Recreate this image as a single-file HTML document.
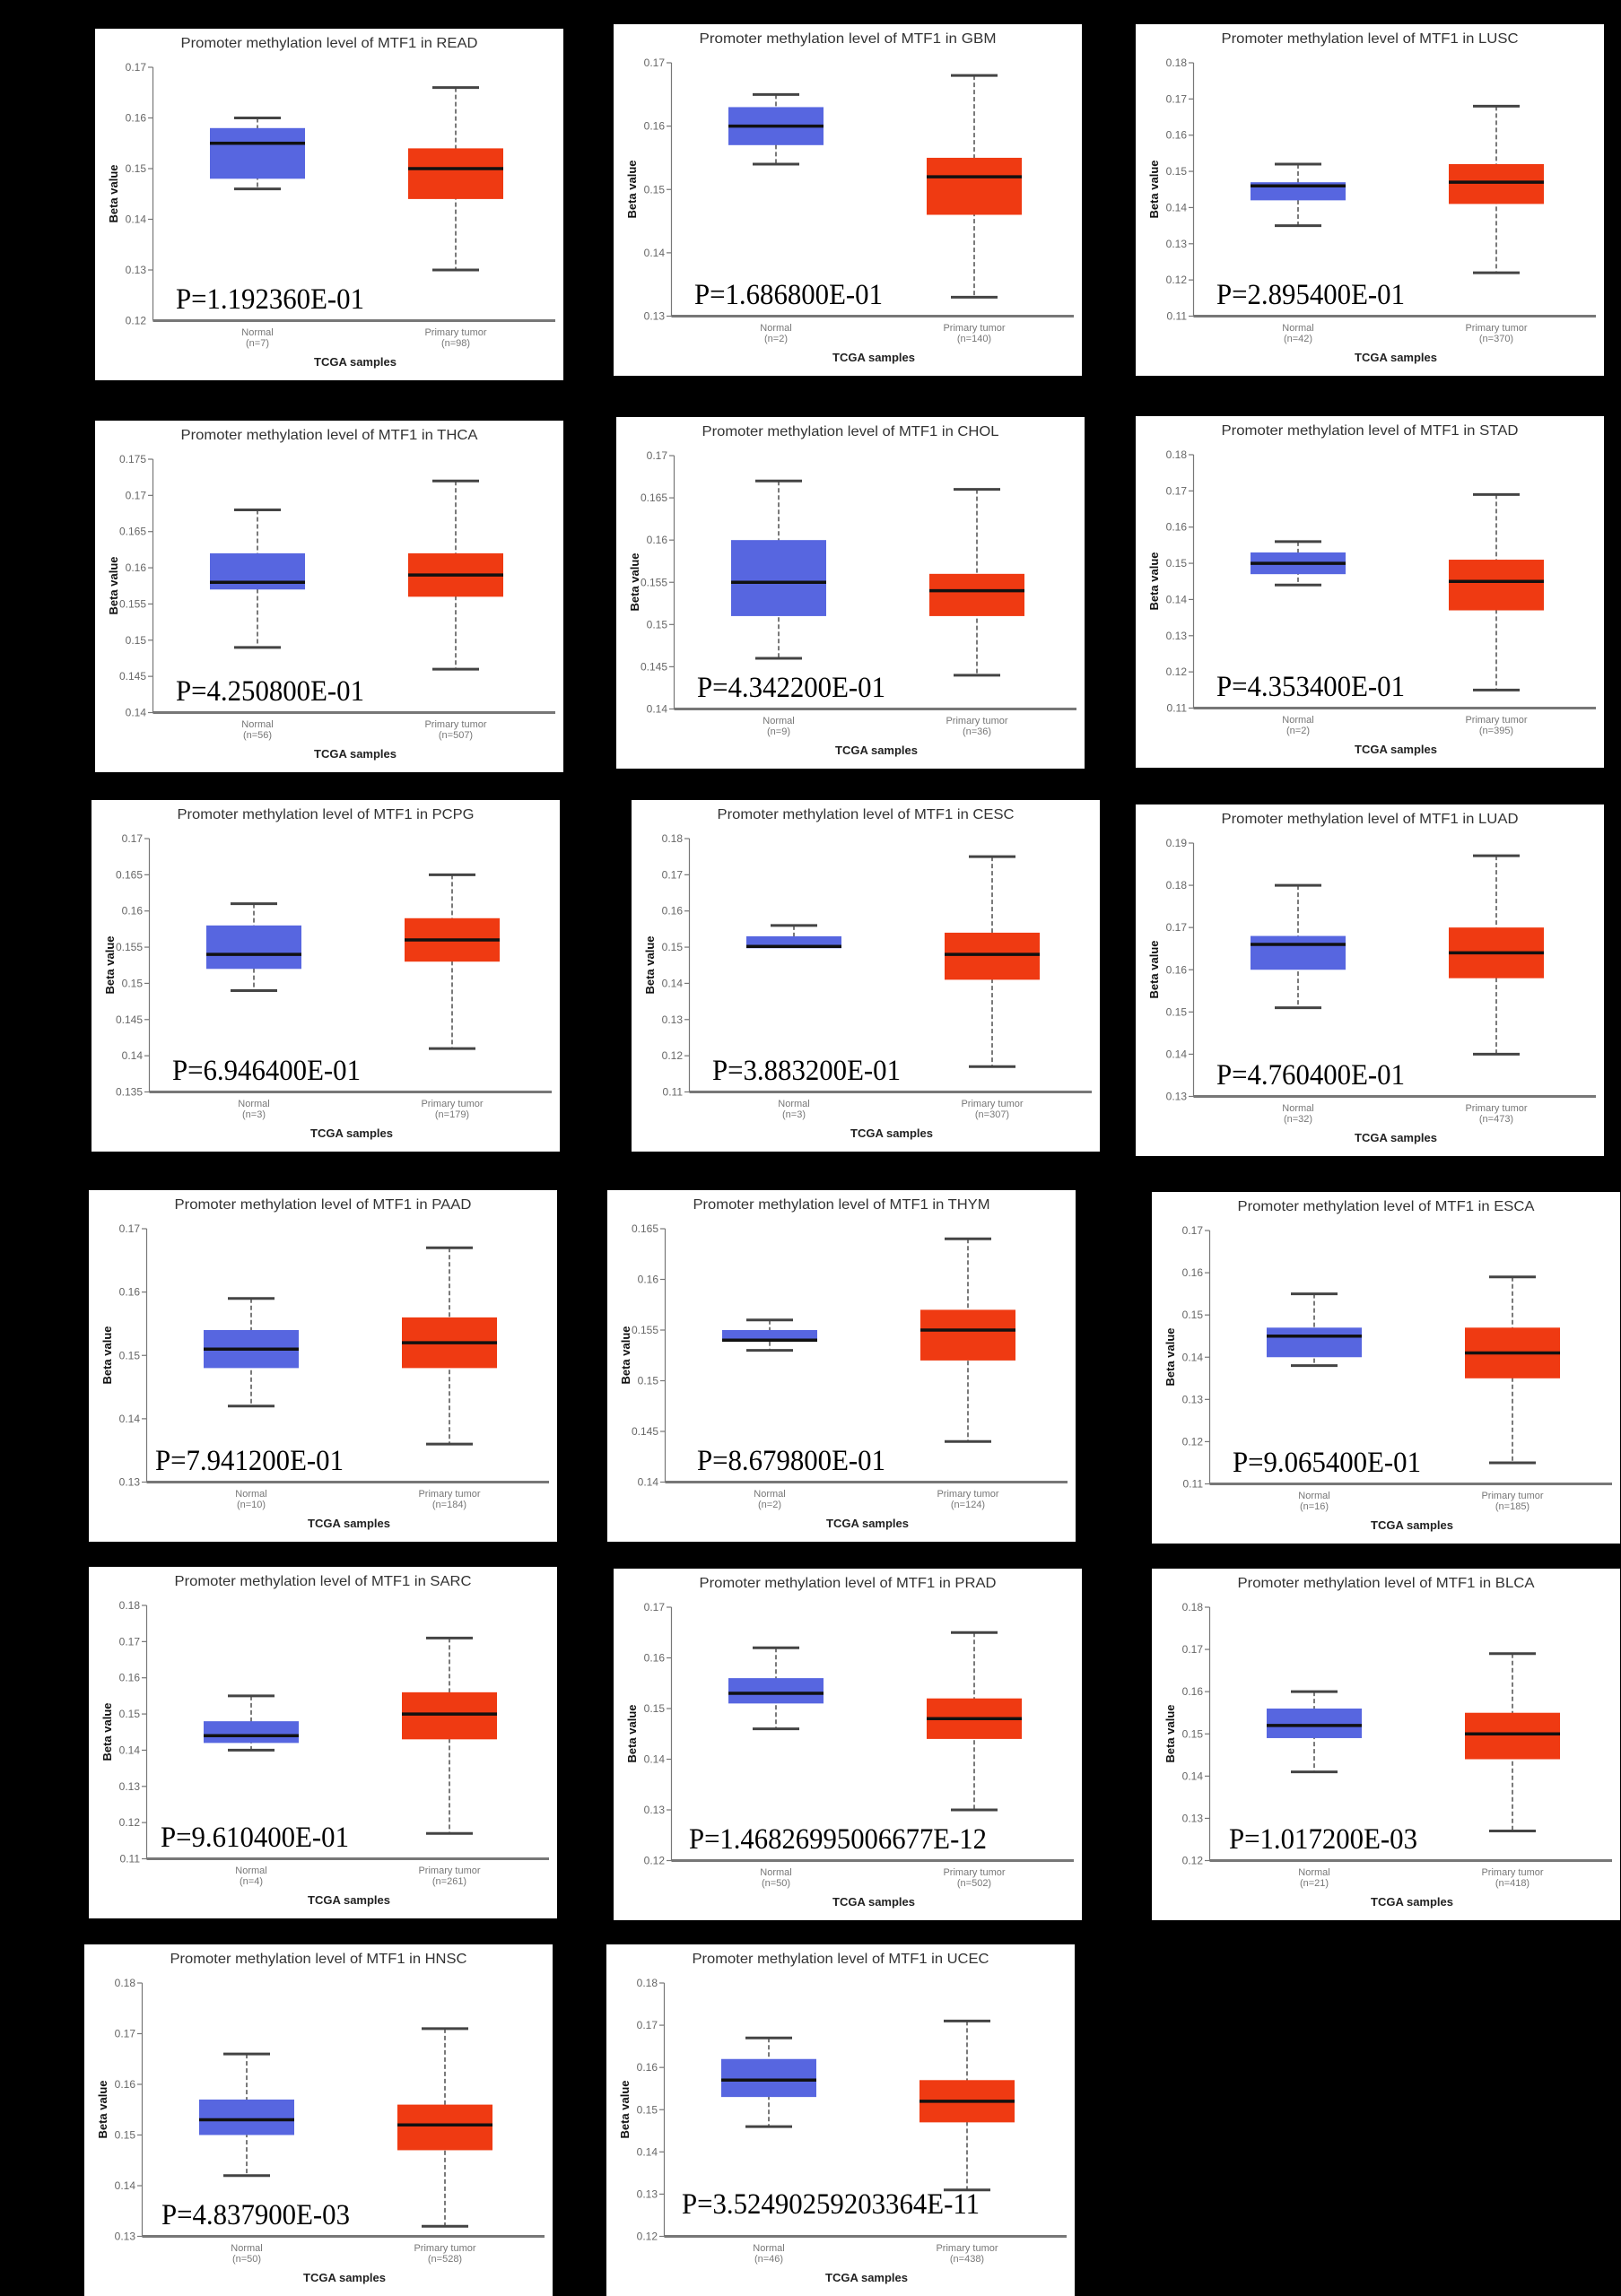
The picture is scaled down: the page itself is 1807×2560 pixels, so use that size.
<!DOCTYPE html>
<html><head><meta charset="utf-8"><style>
html,body{margin:0;padding:0;background:#000}
svg{display:block}
.ps line,.ps rect{vector-effect:non-scaling-stroke}
.ax{stroke:#777;stroke-width:1.2}
.xa{stroke:#777;stroke-width:3}
.w{stroke:#222;stroke-width:1.2;stroke-dasharray:5 3}
.cap{stroke:#444;stroke-width:3}
.m{stroke:#111;stroke-width:3.5}
.nb{fill:#5766e0}
.tb{fill:#ef3a12}
.t{font:16px "Liberation Sans",sans-serif;fill:#333;text-anchor:middle}
.k{font:12px "Liberation Sans",sans-serif;fill:#666;text-anchor:end}
.b{font:bold 13px "Liberation Sans",sans-serif;fill:#111;text-anchor:middle}
.c{font:11px "Liberation Sans",sans-serif;fill:#777;text-anchor:middle}
.x{font:bold 13px "Liberation Sans",sans-serif;fill:#222;text-anchor:middle}
.p{font:33px "Liberation Serif",serif;fill:#000}
</style></head><body>
<svg width="1807" height="2560" viewBox="0 0 1807 2560" xmlns="http://www.w3.org/2000/svg">
<rect width="1807" height="2560" fill="#000"/>

<!-- P1 READ -->
<g transform="translate(106,32)">
<rect width="522" height="392" fill="#fff"/>
<svg class="ps" x="0" y="43" width="522" height="282.5" viewBox="0 -170 522 50" preserveAspectRatio="none" overflow="visible">
<line class="ax" x1="64.5" x2="64.5" y1="-170" y2="-120"/><line class="xa" x1="64.5" x2="513" y1="-120" y2="-120"/>
<line class="ax" x1="59" x2="64.5" y1="-170" y2="-170"/><line class="ax" x1="59" x2="64.5" y1="-160" y2="-160"/><line class="ax" x1="59" x2="64.5" y1="-150" y2="-150"/><line class="ax" x1="59" x2="64.5" y1="-140" y2="-140"/><line class="ax" x1="59" x2="64.5" y1="-130" y2="-130"/>
<line class="w" x1="181" x2="181" y1="-160" y2="-146"/><rect class="nb" x="128" y="-158" width="106" height="10"/><line class="m" x1="128" x2="234" y1="-155" y2="-155"/><line class="cap" x1="155" x2="207" y1="-160" y2="-160"/><line class="cap" x1="155" x2="207" y1="-146" y2="-146"/>
<line class="w" x1="402" x2="402" y1="-166" y2="-130"/><rect class="tb" x="349" y="-154" width="106" height="10"/><line class="m" x1="349" x2="455" y1="-150" y2="-150"/><line class="cap" x1="376" x2="428" y1="-166" y2="-166"/><line class="cap" x1="376" x2="428" y1="-130" y2="-130"/>
</svg>
<text class="t" x="261" y="21" textLength="331" lengthAdjust="spacingAndGlyphs">Promoter methylation level of MTF1 in READ</text>
<text class="k" x="57" y="47">0.17</text><text class="k" x="57" y="103.5">0.16</text><text class="k" x="57" y="160">0.15</text><text class="k" x="57" y="216.5">0.14</text><text class="k" x="57" y="273">0.13</text><text class="k" x="57" y="329.5">0.12</text>
<text class="b" transform="translate(25,184) rotate(-90)">Beta value</text>
<text class="c" x="181" y="342">Normal</text><text class="c" x="181" y="354">(n=7)</text>
<text class="c" x="402" y="342">Primary tumor</text><text class="c" x="402" y="354">(n=98)</text>
<text class="x" x="290" y="376">TCGA samples</text>
<text class="p" x="90" y="312" textLength="210" lengthAdjust="spacingAndGlyphs">P=1.192360E-01</text>
</g>

<!-- P2 GBM -->
<g transform="translate(684,27)">
<rect width="522" height="392" fill="#fff"/>
<svg class="ps" x="0" y="43" width="522" height="282.5" viewBox="0 -170 522 40" preserveAspectRatio="none" overflow="visible">
<line class="ax" x1="64.5" x2="64.5" y1="-170" y2="-130"/><line class="xa" x1="64.5" x2="513" y1="-130" y2="-130"/>
<line class="ax" x1="59" x2="64.5" y1="-170" y2="-170"/><line class="ax" x1="59" x2="64.5" y1="-160" y2="-160"/><line class="ax" x1="59" x2="64.5" y1="-150" y2="-150"/><line class="ax" x1="59" x2="64.5" y1="-140" y2="-140"/><line class="ax" x1="59" x2="64.5" y1="-130" y2="-130"/>
<line class="w" x1="181" x2="181" y1="-165" y2="-154"/><rect class="nb" x="128" y="-163" width="106" height="6"/><line class="m" x1="128" x2="234" y1="-160" y2="-160"/><line class="cap" x1="155" x2="207" y1="-165" y2="-165"/><line class="cap" x1="155" x2="207" y1="-154" y2="-154"/>
<line class="w" x1="402" x2="402" y1="-168" y2="-133"/><rect class="tb" x="349" y="-155" width="106" height="9"/><line class="m" x1="349" x2="455" y1="-152" y2="-152"/><line class="cap" x1="376" x2="428" y1="-168" y2="-168"/><line class="cap" x1="376" x2="428" y1="-133" y2="-133"/>
</svg>
<text class="t" x="261" y="21" textLength="331" lengthAdjust="spacingAndGlyphs">Promoter methylation level of MTF1 in GBM</text>
<text class="k" x="57" y="47">0.17</text><text class="k" x="57" y="117.6">0.16</text><text class="k" x="57" y="188.3">0.15</text><text class="k" x="57" y="258.9">0.14</text><text class="k" x="57" y="329.5">0.13</text>
<text class="b" transform="translate(25,184) rotate(-90)">Beta value</text>
<text class="c" x="181" y="342">Normal</text><text class="c" x="181" y="354">(n=2)</text>
<text class="c" x="402" y="342">Primary tumor</text><text class="c" x="402" y="354">(n=140)</text>
<text class="x" x="290" y="376">TCGA samples</text>
<text class="p" x="90" y="312" textLength="210" lengthAdjust="spacingAndGlyphs">P=1.686800E-01</text>
</g>

<!-- P3 LUSC -->
<g transform="translate(1266,27)">
<rect width="522" height="392" fill="#fff"/>
<svg class="ps" x="0" y="43" width="522" height="282.5" viewBox="0 -180 522 70" preserveAspectRatio="none" overflow="visible">
<line class="ax" x1="64.5" x2="64.5" y1="-180" y2="-110"/><line class="xa" x1="64.5" x2="513" y1="-110" y2="-110"/>
<line class="ax" x1="59" x2="64.5" y1="-180" y2="-180"/><line class="ax" x1="59" x2="64.5" y1="-170" y2="-170"/><line class="ax" x1="59" x2="64.5" y1="-160" y2="-160"/><line class="ax" x1="59" x2="64.5" y1="-150" y2="-150"/><line class="ax" x1="59" x2="64.5" y1="-140" y2="-140"/><line class="ax" x1="59" x2="64.5" y1="-130" y2="-130"/><line class="ax" x1="59" x2="64.5" y1="-120" y2="-120"/><line class="ax" x1="59" x2="64.5" y1="-110" y2="-110"/>
<line class="w" x1="181" x2="181" y1="-152" y2="-135"/><rect class="nb" x="128" y="-147" width="106" height="5"/><line class="m" x1="128" x2="234" y1="-146" y2="-146"/><line class="cap" x1="155" x2="207" y1="-152" y2="-152"/><line class="cap" x1="155" x2="207" y1="-135" y2="-135"/>
<line class="w" x1="402" x2="402" y1="-168" y2="-122"/><rect class="tb" x="349" y="-152" width="106" height="11"/><line class="m" x1="349" x2="455" y1="-147" y2="-147"/><line class="cap" x1="376" x2="428" y1="-168" y2="-168"/><line class="cap" x1="376" x2="428" y1="-122" y2="-122"/>
</svg>
<text class="t" x="261" y="21" textLength="331" lengthAdjust="spacingAndGlyphs">Promoter methylation level of MTF1 in LUSC</text>
<text class="k" x="57" y="47">0.18</text><text class="k" x="57" y="87.4">0.17</text><text class="k" x="57" y="127.7">0.16</text><text class="k" x="57" y="168.1">0.15</text><text class="k" x="57" y="208.4">0.14</text><text class="k" x="57" y="248.8">0.13</text><text class="k" x="57" y="289.1">0.12</text><text class="k" x="57" y="329.5">0.11</text>
<text class="b" transform="translate(25,184) rotate(-90)">Beta value</text>
<text class="c" x="181" y="342">Normal</text><text class="c" x="181" y="354">(n=42)</text>
<text class="c" x="402" y="342">Primary tumor</text><text class="c" x="402" y="354">(n=370)</text>
<text class="x" x="290" y="376">TCGA samples</text>
<text class="p" x="90" y="312" textLength="210" lengthAdjust="spacingAndGlyphs">P=2.895400E-01</text>
</g>

<!-- P4 THCA -->
<g transform="translate(106,469)">
<rect width="522" height="392" fill="#fff"/>
<svg class="ps" x="0" y="43" width="522" height="282.5" viewBox="0 -175 522 35" preserveAspectRatio="none" overflow="visible">
<line class="ax" x1="64.5" x2="64.5" y1="-175" y2="-140"/><line class="xa" x1="64.5" x2="513" y1="-140" y2="-140"/>
<line class="ax" x1="59" x2="64.5" y1="-175" y2="-175"/><line class="ax" x1="59" x2="64.5" y1="-170" y2="-170"/><line class="ax" x1="59" x2="64.5" y1="-165" y2="-165"/><line class="ax" x1="59" x2="64.5" y1="-160" y2="-160"/><line class="ax" x1="59" x2="64.5" y1="-155" y2="-155"/><line class="ax" x1="59" x2="64.5" y1="-150" y2="-150"/><line class="ax" x1="59" x2="64.5" y1="-145" y2="-145"/><line class="ax" x1="59" x2="64.5" y1="-140" y2="-140"/>
<line class="w" x1="181" x2="181" y1="-168" y2="-149"/><rect class="nb" x="128" y="-162" width="106" height="5"/><line class="m" x1="128" x2="234" y1="-158" y2="-158"/><line class="cap" x1="155" x2="207" y1="-168" y2="-168"/><line class="cap" x1="155" x2="207" y1="-149" y2="-149"/>
<line class="w" x1="402" x2="402" y1="-172" y2="-146"/><rect class="tb" x="349" y="-162" width="106" height="6"/><line class="m" x1="349" x2="455" y1="-159" y2="-159"/><line class="cap" x1="376" x2="428" y1="-172" y2="-172"/><line class="cap" x1="376" x2="428" y1="-146" y2="-146"/>
</svg>
<text class="t" x="261" y="21" textLength="331" lengthAdjust="spacingAndGlyphs">Promoter methylation level of MTF1 in THCA</text>
<text class="k" x="57" y="47">0.175</text><text class="k" x="57" y="87.4">0.17</text><text class="k" x="57" y="127.7">0.165</text><text class="k" x="57" y="168.1">0.16</text><text class="k" x="57" y="208.4">0.155</text><text class="k" x="57" y="248.8">0.15</text><text class="k" x="57" y="289.1">0.145</text><text class="k" x="57" y="329.5">0.14</text>
<text class="b" transform="translate(25,184) rotate(-90)">Beta value</text>
<text class="c" x="181" y="342">Normal</text><text class="c" x="181" y="354">(n=56)</text>
<text class="c" x="402" y="342">Primary tumor</text><text class="c" x="402" y="354">(n=507)</text>
<text class="x" x="290" y="376">TCGA samples</text>
<text class="p" x="90" y="312" textLength="210" lengthAdjust="spacingAndGlyphs">P=4.250800E-01</text>
</g>

<!-- P5 CHOL -->
<g transform="translate(687,465)">
<rect width="522" height="392" fill="#fff"/>
<svg class="ps" x="0" y="43" width="522" height="282.5" viewBox="0 -170 522 30" preserveAspectRatio="none" overflow="visible">
<line class="ax" x1="64.5" x2="64.5" y1="-170" y2="-140"/><line class="xa" x1="64.5" x2="513" y1="-140" y2="-140"/>
<line class="ax" x1="59" x2="64.5" y1="-170" y2="-170"/><line class="ax" x1="59" x2="64.5" y1="-165" y2="-165"/><line class="ax" x1="59" x2="64.5" y1="-160" y2="-160"/><line class="ax" x1="59" x2="64.5" y1="-155" y2="-155"/><line class="ax" x1="59" x2="64.5" y1="-150" y2="-150"/><line class="ax" x1="59" x2="64.5" y1="-145" y2="-145"/><line class="ax" x1="59" x2="64.5" y1="-140" y2="-140"/>
<line class="w" x1="181" x2="181" y1="-167" y2="-146"/><rect class="nb" x="128" y="-160" width="106" height="9"/><line class="m" x1="128" x2="234" y1="-155" y2="-155"/><line class="cap" x1="155" x2="207" y1="-167" y2="-167"/><line class="cap" x1="155" x2="207" y1="-146" y2="-146"/>
<line class="w" x1="402" x2="402" y1="-166" y2="-144"/><rect class="tb" x="349" y="-156" width="106" height="5"/><line class="m" x1="349" x2="455" y1="-154" y2="-154"/><line class="cap" x1="376" x2="428" y1="-166" y2="-166"/><line class="cap" x1="376" x2="428" y1="-144" y2="-144"/>
</svg>
<text class="t" x="261" y="21" textLength="331" lengthAdjust="spacingAndGlyphs">Promoter methylation level of MTF1 in CHOL</text>
<text class="k" x="57" y="47">0.17</text><text class="k" x="57" y="94.1">0.165</text><text class="k" x="57" y="141.2">0.16</text><text class="k" x="57" y="188.3">0.155</text><text class="k" x="57" y="235.3">0.15</text><text class="k" x="57" y="282.4">0.145</text><text class="k" x="57" y="329.5">0.14</text>
<text class="b" transform="translate(25,184) rotate(-90)">Beta value</text>
<text class="c" x="181" y="342">Normal</text><text class="c" x="181" y="354">(n=9)</text>
<text class="c" x="402" y="342">Primary tumor</text><text class="c" x="402" y="354">(n=36)</text>
<text class="x" x="290" y="376">TCGA samples</text>
<text class="p" x="90" y="312" textLength="210" lengthAdjust="spacingAndGlyphs">P=4.342200E-01</text>
</g>

<!-- P6 STAD -->
<g transform="translate(1266,464)">
<rect width="522" height="392" fill="#fff"/>
<svg class="ps" x="0" y="43" width="522" height="282.5" viewBox="0 -180 522 70" preserveAspectRatio="none" overflow="visible">
<line class="ax" x1="64.5" x2="64.5" y1="-180" y2="-110"/><line class="xa" x1="64.5" x2="513" y1="-110" y2="-110"/>
<line class="ax" x1="59" x2="64.5" y1="-180" y2="-180"/><line class="ax" x1="59" x2="64.5" y1="-170" y2="-170"/><line class="ax" x1="59" x2="64.5" y1="-160" y2="-160"/><line class="ax" x1="59" x2="64.5" y1="-150" y2="-150"/><line class="ax" x1="59" x2="64.5" y1="-140" y2="-140"/><line class="ax" x1="59" x2="64.5" y1="-130" y2="-130"/><line class="ax" x1="59" x2="64.5" y1="-120" y2="-120"/><line class="ax" x1="59" x2="64.5" y1="-110" y2="-110"/>
<line class="w" x1="181" x2="181" y1="-156" y2="-144"/><rect class="nb" x="128" y="-153" width="106" height="6"/><line class="m" x1="128" x2="234" y1="-150" y2="-150"/><line class="cap" x1="155" x2="207" y1="-156" y2="-156"/><line class="cap" x1="155" x2="207" y1="-144" y2="-144"/>
<line class="w" x1="402" x2="402" y1="-169" y2="-115"/><rect class="tb" x="349" y="-151" width="106" height="14"/><line class="m" x1="349" x2="455" y1="-145" y2="-145"/><line class="cap" x1="376" x2="428" y1="-169" y2="-169"/><line class="cap" x1="376" x2="428" y1="-115" y2="-115"/>
</svg>
<text class="t" x="261" y="21" textLength="331" lengthAdjust="spacingAndGlyphs">Promoter methylation level of MTF1 in STAD</text>
<text class="k" x="57" y="47">0.18</text><text class="k" x="57" y="87.4">0.17</text><text class="k" x="57" y="127.7">0.16</text><text class="k" x="57" y="168.1">0.15</text><text class="k" x="57" y="208.4">0.14</text><text class="k" x="57" y="248.8">0.13</text><text class="k" x="57" y="289.1">0.12</text><text class="k" x="57" y="329.5">0.11</text>
<text class="b" transform="translate(25,184) rotate(-90)">Beta value</text>
<text class="c" x="181" y="342">Normal</text><text class="c" x="181" y="354">(n=2)</text>
<text class="c" x="402" y="342">Primary tumor</text><text class="c" x="402" y="354">(n=395)</text>
<text class="x" x="290" y="376">TCGA samples</text>
<text class="p" x="90" y="312" textLength="210" lengthAdjust="spacingAndGlyphs">P=4.353400E-01</text>
</g>

<!-- P7 PCPG -->
<g transform="translate(102,892)">
<rect width="522" height="392" fill="#fff"/>
<svg class="ps" x="0" y="43" width="522" height="282.5" viewBox="0 -170 522 35" preserveAspectRatio="none" overflow="visible">
<line class="ax" x1="64.5" x2="64.5" y1="-170" y2="-135"/><line class="xa" x1="64.5" x2="513" y1="-135" y2="-135"/>
<line class="ax" x1="59" x2="64.5" y1="-170" y2="-170"/><line class="ax" x1="59" x2="64.5" y1="-165" y2="-165"/><line class="ax" x1="59" x2="64.5" y1="-160" y2="-160"/><line class="ax" x1="59" x2="64.5" y1="-155" y2="-155"/><line class="ax" x1="59" x2="64.5" y1="-150" y2="-150"/><line class="ax" x1="59" x2="64.5" y1="-145" y2="-145"/><line class="ax" x1="59" x2="64.5" y1="-140" y2="-140"/><line class="ax" x1="59" x2="64.5" y1="-135" y2="-135"/>
<line class="w" x1="181" x2="181" y1="-161" y2="-149"/><rect class="nb" x="128" y="-158" width="106" height="6"/><line class="m" x1="128" x2="234" y1="-154" y2="-154"/><line class="cap" x1="155" x2="207" y1="-161" y2="-161"/><line class="cap" x1="155" x2="207" y1="-149" y2="-149"/>
<line class="w" x1="402" x2="402" y1="-165" y2="-141"/><rect class="tb" x="349" y="-159" width="106" height="6"/><line class="m" x1="349" x2="455" y1="-156" y2="-156"/><line class="cap" x1="376" x2="428" y1="-165" y2="-165"/><line class="cap" x1="376" x2="428" y1="-141" y2="-141"/>
</svg>
<text class="t" x="261" y="21" textLength="331" lengthAdjust="spacingAndGlyphs">Promoter methylation level of MTF1 in PCPG</text>
<text class="k" x="57" y="47">0.17</text><text class="k" x="57" y="87.4">0.165</text><text class="k" x="57" y="127.7">0.16</text><text class="k" x="57" y="168.1">0.155</text><text class="k" x="57" y="208.4">0.15</text><text class="k" x="57" y="248.8">0.145</text><text class="k" x="57" y="289.1">0.14</text><text class="k" x="57" y="329.5">0.135</text>
<text class="b" transform="translate(25,184) rotate(-90)">Beta value</text>
<text class="c" x="181" y="342">Normal</text><text class="c" x="181" y="354">(n=3)</text>
<text class="c" x="402" y="342">Primary tumor</text><text class="c" x="402" y="354">(n=179)</text>
<text class="x" x="290" y="376">TCGA samples</text>
<text class="p" x="90" y="312" textLength="210" lengthAdjust="spacingAndGlyphs">P=6.946400E-01</text>
</g>

<!-- P8 CESC -->
<g transform="translate(704,892)">
<rect width="522" height="392" fill="#fff"/>
<svg class="ps" x="0" y="43" width="522" height="282.5" viewBox="0 -180 522 70" preserveAspectRatio="none" overflow="visible">
<line class="ax" x1="64.5" x2="64.5" y1="-180" y2="-110"/><line class="xa" x1="64.5" x2="513" y1="-110" y2="-110"/>
<line class="ax" x1="59" x2="64.5" y1="-180" y2="-180"/><line class="ax" x1="59" x2="64.5" y1="-170" y2="-170"/><line class="ax" x1="59" x2="64.5" y1="-160" y2="-160"/><line class="ax" x1="59" x2="64.5" y1="-150" y2="-150"/><line class="ax" x1="59" x2="64.5" y1="-140" y2="-140"/><line class="ax" x1="59" x2="64.5" y1="-130" y2="-130"/><line class="ax" x1="59" x2="64.5" y1="-120" y2="-120"/><line class="ax" x1="59" x2="64.5" y1="-110" y2="-110"/>
<line class="w" x1="181" x2="181" y1="-156" y2="-150"/><rect class="nb" x="128" y="-153" width="106" height="3.3"/><line class="m" x1="128" x2="234" y1="-150.2" y2="-150.2"/><line class="cap" x1="155" x2="207" y1="-156" y2="-156"/>
<line class="w" x1="402" x2="402" y1="-175" y2="-117"/><rect class="tb" x="349" y="-154" width="106" height="13"/><line class="m" x1="349" x2="455" y1="-148" y2="-148"/><line class="cap" x1="376" x2="428" y1="-175" y2="-175"/><line class="cap" x1="376" x2="428" y1="-117" y2="-117"/>
</svg>
<text class="t" x="261" y="21" textLength="331" lengthAdjust="spacingAndGlyphs">Promoter methylation level of MTF1 in CESC</text>
<text class="k" x="57" y="47">0.18</text><text class="k" x="57" y="87.4">0.17</text><text class="k" x="57" y="127.7">0.16</text><text class="k" x="57" y="168.1">0.15</text><text class="k" x="57" y="208.4">0.14</text><text class="k" x="57" y="248.8">0.13</text><text class="k" x="57" y="289.1">0.12</text><text class="k" x="57" y="329.5">0.11</text>
<text class="b" transform="translate(25,184) rotate(-90)">Beta value</text>
<text class="c" x="181" y="342">Normal</text><text class="c" x="181" y="354">(n=3)</text>
<text class="c" x="402" y="342">Primary tumor</text><text class="c" x="402" y="354">(n=307)</text>
<text class="x" x="290" y="376">TCGA samples</text>
<text class="p" x="90" y="312" textLength="210" lengthAdjust="spacingAndGlyphs">P=3.883200E-01</text>
</g>

<!-- P9 LUAD -->
<g transform="translate(1266,897)">
<rect width="522" height="392" fill="#fff"/>
<svg class="ps" x="0" y="43" width="522" height="282.5" viewBox="0 -190 522 60" preserveAspectRatio="none" overflow="visible">
<line class="ax" x1="64.5" x2="64.5" y1="-190" y2="-130"/><line class="xa" x1="64.5" x2="513" y1="-130" y2="-130"/>
<line class="ax" x1="59" x2="64.5" y1="-190" y2="-190"/><line class="ax" x1="59" x2="64.5" y1="-180" y2="-180"/><line class="ax" x1="59" x2="64.5" y1="-170" y2="-170"/><line class="ax" x1="59" x2="64.5" y1="-160" y2="-160"/><line class="ax" x1="59" x2="64.5" y1="-150" y2="-150"/><line class="ax" x1="59" x2="64.5" y1="-140" y2="-140"/><line class="ax" x1="59" x2="64.5" y1="-130" y2="-130"/>
<line class="w" x1="181" x2="181" y1="-180" y2="-151"/><rect class="nb" x="128" y="-168" width="106" height="8"/><line class="m" x1="128" x2="234" y1="-166" y2="-166"/><line class="cap" x1="155" x2="207" y1="-180" y2="-180"/><line class="cap" x1="155" x2="207" y1="-151" y2="-151"/>
<line class="w" x1="402" x2="402" y1="-187" y2="-140"/><rect class="tb" x="349" y="-170" width="106" height="12"/><line class="m" x1="349" x2="455" y1="-164" y2="-164"/><line class="cap" x1="376" x2="428" y1="-187" y2="-187"/><line class="cap" x1="376" x2="428" y1="-140" y2="-140"/>
</svg>
<text class="t" x="261" y="21" textLength="331" lengthAdjust="spacingAndGlyphs">Promoter methylation level of MTF1 in LUAD</text>
<text class="k" x="57" y="47">0.19</text><text class="k" x="57" y="94.1">0.18</text><text class="k" x="57" y="141.2">0.17</text><text class="k" x="57" y="188.3">0.16</text><text class="k" x="57" y="235.3">0.15</text><text class="k" x="57" y="282.4">0.14</text><text class="k" x="57" y="329.5">0.13</text>
<text class="b" transform="translate(25,184) rotate(-90)">Beta value</text>
<text class="c" x="181" y="342">Normal</text><text class="c" x="181" y="354">(n=32)</text>
<text class="c" x="402" y="342">Primary tumor</text><text class="c" x="402" y="354">(n=473)</text>
<text class="x" x="290" y="376">TCGA samples</text>
<text class="p" x="90" y="312" textLength="210" lengthAdjust="spacingAndGlyphs">P=4.760400E-01</text>
</g>

<!-- P10 PAAD -->
<g transform="translate(99,1327)">
<rect width="522" height="392" fill="#fff"/>
<svg class="ps" x="0" y="43" width="522" height="282.5" viewBox="0 -170 522 40" preserveAspectRatio="none" overflow="visible">
<line class="ax" x1="64.5" x2="64.5" y1="-170" y2="-130"/><line class="xa" x1="64.5" x2="513" y1="-130" y2="-130"/>
<line class="ax" x1="59" x2="64.5" y1="-170" y2="-170"/><line class="ax" x1="59" x2="64.5" y1="-160" y2="-160"/><line class="ax" x1="59" x2="64.5" y1="-150" y2="-150"/><line class="ax" x1="59" x2="64.5" y1="-140" y2="-140"/><line class="ax" x1="59" x2="64.5" y1="-130" y2="-130"/>
<line class="w" x1="181" x2="181" y1="-159" y2="-142"/><rect class="nb" x="128" y="-154" width="106" height="6"/><line class="m" x1="128" x2="234" y1="-151" y2="-151"/><line class="cap" x1="155" x2="207" y1="-159" y2="-159"/><line class="cap" x1="155" x2="207" y1="-142" y2="-142"/>
<line class="w" x1="402" x2="402" y1="-167" y2="-136"/><rect class="tb" x="349" y="-156" width="106" height="8"/><line class="m" x1="349" x2="455" y1="-152" y2="-152"/><line class="cap" x1="376" x2="428" y1="-167" y2="-167"/><line class="cap" x1="376" x2="428" y1="-136" y2="-136"/>
</svg>
<text class="t" x="261" y="21" textLength="331" lengthAdjust="spacingAndGlyphs">Promoter methylation level of MTF1 in PAAD</text>
<text class="k" x="57" y="47">0.17</text><text class="k" x="57" y="117.6">0.16</text><text class="k" x="57" y="188.3">0.15</text><text class="k" x="57" y="258.9">0.14</text><text class="k" x="57" y="329.5">0.13</text>
<text class="b" transform="translate(25,184) rotate(-90)">Beta value</text>
<text class="c" x="181" y="342">Normal</text><text class="c" x="181" y="354">(n=10)</text>
<text class="c" x="402" y="342">Primary tumor</text><text class="c" x="402" y="354">(n=184)</text>
<text class="x" x="290" y="376">TCGA samples</text>
<text class="p" x="74" y="312" textLength="210" lengthAdjust="spacingAndGlyphs">P=7.941200E-01</text>
</g>

<!-- P11 THYM -->
<g transform="translate(677,1327)">
<rect width="522" height="392" fill="#fff"/>
<svg class="ps" x="0" y="43" width="522" height="282.5" viewBox="0 -165 522 25" preserveAspectRatio="none" overflow="visible">
<line class="ax" x1="64.5" x2="64.5" y1="-165" y2="-140"/><line class="xa" x1="64.5" x2="513" y1="-140" y2="-140"/>
<line class="ax" x1="59" x2="64.5" y1="-165" y2="-165"/><line class="ax" x1="59" x2="64.5" y1="-160" y2="-160"/><line class="ax" x1="59" x2="64.5" y1="-155" y2="-155"/><line class="ax" x1="59" x2="64.5" y1="-150" y2="-150"/><line class="ax" x1="59" x2="64.5" y1="-145" y2="-145"/><line class="ax" x1="59" x2="64.5" y1="-140" y2="-140"/>
<line class="w" x1="181" x2="181" y1="-156" y2="-153"/><rect class="nb" x="128" y="-155" width="106" height="1.1"/><line class="m" x1="128" x2="234" y1="-154" y2="-154"/><line class="cap" x1="155" x2="207" y1="-156" y2="-156"/><line class="cap" x1="155" x2="207" y1="-153" y2="-153"/>
<line class="w" x1="402" x2="402" y1="-164" y2="-144"/><rect class="tb" x="349" y="-157" width="106" height="5"/><line class="m" x1="349" x2="455" y1="-155" y2="-155"/><line class="cap" x1="376" x2="428" y1="-164" y2="-164"/><line class="cap" x1="376" x2="428" y1="-144" y2="-144"/>
</svg>
<text class="t" x="261" y="21" textLength="331" lengthAdjust="spacingAndGlyphs">Promoter methylation level of MTF1 in THYM</text>
<text class="k" x="57" y="47">0.165</text><text class="k" x="57" y="103.5">0.16</text><text class="k" x="57" y="160">0.155</text><text class="k" x="57" y="216.5">0.15</text><text class="k" x="57" y="273">0.145</text><text class="k" x="57" y="329.5">0.14</text>
<text class="b" transform="translate(25,184) rotate(-90)">Beta value</text>
<text class="c" x="181" y="342">Normal</text><text class="c" x="181" y="354">(n=2)</text>
<text class="c" x="402" y="342">Primary tumor</text><text class="c" x="402" y="354">(n=124)</text>
<text class="x" x="290" y="376">TCGA samples</text>
<text class="p" x="100" y="312" textLength="210" lengthAdjust="spacingAndGlyphs">P=8.679800E-01</text>
</g>

<!-- P12 ESCA -->
<g transform="translate(1284,1329)">
<rect width="522" height="392" fill="#fff"/>
<svg class="ps" x="0" y="43" width="522" height="282.5" viewBox="0 -170 522 60" preserveAspectRatio="none" overflow="visible">
<line class="ax" x1="64.5" x2="64.5" y1="-170" y2="-110"/><line class="xa" x1="64.5" x2="513" y1="-110" y2="-110"/>
<line class="ax" x1="59" x2="64.5" y1="-170" y2="-170"/><line class="ax" x1="59" x2="64.5" y1="-160" y2="-160"/><line class="ax" x1="59" x2="64.5" y1="-150" y2="-150"/><line class="ax" x1="59" x2="64.5" y1="-140" y2="-140"/><line class="ax" x1="59" x2="64.5" y1="-130" y2="-130"/><line class="ax" x1="59" x2="64.5" y1="-120" y2="-120"/><line class="ax" x1="59" x2="64.5" y1="-110" y2="-110"/>
<line class="w" x1="181" x2="181" y1="-155" y2="-138"/><rect class="nb" x="128" y="-147" width="106" height="7"/><line class="m" x1="128" x2="234" y1="-145" y2="-145"/><line class="cap" x1="155" x2="207" y1="-155" y2="-155"/><line class="cap" x1="155" x2="207" y1="-138" y2="-138"/>
<line class="w" x1="402" x2="402" y1="-159" y2="-115"/><rect class="tb" x="349" y="-147" width="106" height="12"/><line class="m" x1="349" x2="455" y1="-141" y2="-141"/><line class="cap" x1="376" x2="428" y1="-159" y2="-159"/><line class="cap" x1="376" x2="428" y1="-115" y2="-115"/>
</svg>
<text class="t" x="261" y="21" textLength="331" lengthAdjust="spacingAndGlyphs">Promoter methylation level of MTF1 in ESCA</text>
<text class="k" x="57" y="47">0.17</text><text class="k" x="57" y="94.1">0.16</text><text class="k" x="57" y="141.2">0.15</text><text class="k" x="57" y="188.3">0.14</text><text class="k" x="57" y="235.3">0.13</text><text class="k" x="57" y="282.4">0.12</text><text class="k" x="57" y="329.5">0.11</text>
<text class="b" transform="translate(25,184) rotate(-90)">Beta value</text>
<text class="c" x="181" y="342">Normal</text><text class="c" x="181" y="354">(n=16)</text>
<text class="c" x="402" y="342">Primary tumor</text><text class="c" x="402" y="354">(n=185)</text>
<text class="x" x="290" y="376">TCGA samples</text>
<text class="p" x="90" y="312" textLength="210" lengthAdjust="spacingAndGlyphs">P=9.065400E-01</text>
</g>

<!-- P13 SARC -->
<g transform="translate(99,1747)">
<rect width="522" height="392" fill="#fff"/>
<svg class="ps" x="0" y="43" width="522" height="282.5" viewBox="0 -180 522 70" preserveAspectRatio="none" overflow="visible">
<line class="ax" x1="64.5" x2="64.5" y1="-180" y2="-110"/><line class="xa" x1="64.5" x2="513" y1="-110" y2="-110"/>
<line class="ax" x1="59" x2="64.5" y1="-180" y2="-180"/><line class="ax" x1="59" x2="64.5" y1="-170" y2="-170"/><line class="ax" x1="59" x2="64.5" y1="-160" y2="-160"/><line class="ax" x1="59" x2="64.5" y1="-150" y2="-150"/><line class="ax" x1="59" x2="64.5" y1="-140" y2="-140"/><line class="ax" x1="59" x2="64.5" y1="-130" y2="-130"/><line class="ax" x1="59" x2="64.5" y1="-120" y2="-120"/><line class="ax" x1="59" x2="64.5" y1="-110" y2="-110"/>
<line class="w" x1="181" x2="181" y1="-155" y2="-140"/><rect class="nb" x="128" y="-148" width="106" height="6"/><line class="m" x1="128" x2="234" y1="-144" y2="-144"/><line class="cap" x1="155" x2="207" y1="-155" y2="-155"/><line class="cap" x1="155" x2="207" y1="-140" y2="-140"/>
<line class="w" x1="402" x2="402" y1="-171" y2="-117"/><rect class="tb" x="349" y="-156" width="106" height="13"/><line class="m" x1="349" x2="455" y1="-150" y2="-150"/><line class="cap" x1="376" x2="428" y1="-171" y2="-171"/><line class="cap" x1="376" x2="428" y1="-117" y2="-117"/>
</svg>
<text class="t" x="261" y="21" textLength="331" lengthAdjust="spacingAndGlyphs">Promoter methylation level of MTF1 in SARC</text>
<text class="k" x="57" y="47">0.18</text><text class="k" x="57" y="87.4">0.17</text><text class="k" x="57" y="127.7">0.16</text><text class="k" x="57" y="168.1">0.15</text><text class="k" x="57" y="208.4">0.14</text><text class="k" x="57" y="248.8">0.13</text><text class="k" x="57" y="289.1">0.12</text><text class="k" x="57" y="329.5">0.11</text>
<text class="b" transform="translate(25,184) rotate(-90)">Beta value</text>
<text class="c" x="181" y="342">Normal</text><text class="c" x="181" y="354">(n=4)</text>
<text class="c" x="402" y="342">Primary tumor</text><text class="c" x="402" y="354">(n=261)</text>
<text class="x" x="290" y="376">TCGA samples</text>
<text class="p" x="80" y="312" textLength="210" lengthAdjust="spacingAndGlyphs">P=9.610400E-01</text>
</g>

<!-- P14 PRAD -->
<g transform="translate(684,1749)">
<rect width="522" height="392" fill="#fff"/>
<svg class="ps" x="0" y="43" width="522" height="282.5" viewBox="0 -170 522 50" preserveAspectRatio="none" overflow="visible">
<line class="ax" x1="64.5" x2="64.5" y1="-170" y2="-120"/><line class="xa" x1="64.5" x2="513" y1="-120" y2="-120"/>
<line class="ax" x1="59" x2="64.5" y1="-170" y2="-170"/><line class="ax" x1="59" x2="64.5" y1="-160" y2="-160"/><line class="ax" x1="59" x2="64.5" y1="-150" y2="-150"/><line class="ax" x1="59" x2="64.5" y1="-140" y2="-140"/><line class="ax" x1="59" x2="64.5" y1="-130" y2="-130"/><line class="ax" x1="59" x2="64.5" y1="-120" y2="-120"/>
<line class="w" x1="181" x2="181" y1="-162" y2="-146"/><rect class="nb" x="128" y="-156" width="106" height="5"/><line class="m" x1="128" x2="234" y1="-153" y2="-153"/><line class="cap" x1="155" x2="207" y1="-162" y2="-162"/><line class="cap" x1="155" x2="207" y1="-146" y2="-146"/>
<line class="w" x1="402" x2="402" y1="-165" y2="-130"/><rect class="tb" x="349" y="-152" width="106" height="8"/><line class="m" x1="349" x2="455" y1="-148" y2="-148"/><line class="cap" x1="376" x2="428" y1="-165" y2="-165"/><line class="cap" x1="376" x2="428" y1="-130" y2="-130"/>
</svg>
<text class="t" x="261" y="21" textLength="331" lengthAdjust="spacingAndGlyphs">Promoter methylation level of MTF1 in PRAD</text>
<text class="k" x="57" y="47">0.17</text><text class="k" x="57" y="103.5">0.16</text><text class="k" x="57" y="160">0.15</text><text class="k" x="57" y="216.5">0.14</text><text class="k" x="57" y="273">0.13</text><text class="k" x="57" y="329.5">0.12</text>
<text class="b" transform="translate(25,184) rotate(-90)">Beta value</text>
<text class="c" x="181" y="342">Normal</text><text class="c" x="181" y="354">(n=50)</text>
<text class="c" x="402" y="342">Primary tumor</text><text class="c" x="402" y="354">(n=502)</text>
<text class="x" x="290" y="376">TCGA samples</text>
<text class="p" x="84" y="312" textLength="332" lengthAdjust="spacingAndGlyphs">P=1.46826995006677E-12</text>
</g>

<!-- P15 BLCA -->
<g transform="translate(1284,1749)">
<rect width="522" height="392" fill="#fff"/>
<svg class="ps" x="0" y="43" width="522" height="282.5" viewBox="0 -180 522 60" preserveAspectRatio="none" overflow="visible">
<line class="ax" x1="64.5" x2="64.5" y1="-180" y2="-120"/><line class="xa" x1="64.5" x2="513" y1="-120" y2="-120"/>
<line class="ax" x1="59" x2="64.5" y1="-180" y2="-180"/><line class="ax" x1="59" x2="64.5" y1="-170" y2="-170"/><line class="ax" x1="59" x2="64.5" y1="-160" y2="-160"/><line class="ax" x1="59" x2="64.5" y1="-150" y2="-150"/><line class="ax" x1="59" x2="64.5" y1="-140" y2="-140"/><line class="ax" x1="59" x2="64.5" y1="-130" y2="-130"/><line class="ax" x1="59" x2="64.5" y1="-120" y2="-120"/>
<line class="w" x1="181" x2="181" y1="-160" y2="-141"/><rect class="nb" x="128" y="-156" width="106" height="7"/><line class="m" x1="128" x2="234" y1="-152" y2="-152"/><line class="cap" x1="155" x2="207" y1="-160" y2="-160"/><line class="cap" x1="155" x2="207" y1="-141" y2="-141"/>
<line class="w" x1="402" x2="402" y1="-169" y2="-127"/><rect class="tb" x="349" y="-155" width="106" height="11"/><line class="m" x1="349" x2="455" y1="-150" y2="-150"/><line class="cap" x1="376" x2="428" y1="-169" y2="-169"/><line class="cap" x1="376" x2="428" y1="-127" y2="-127"/>
</svg>
<text class="t" x="261" y="21" textLength="331" lengthAdjust="spacingAndGlyphs">Promoter methylation level of MTF1 in BLCA</text>
<text class="k" x="57" y="47">0.18</text><text class="k" x="57" y="94.1">0.17</text><text class="k" x="57" y="141.2">0.16</text><text class="k" x="57" y="188.3">0.15</text><text class="k" x="57" y="235.3">0.14</text><text class="k" x="57" y="282.4">0.13</text><text class="k" x="57" y="329.5">0.12</text>
<text class="b" transform="translate(25,184) rotate(-90)">Beta value</text>
<text class="c" x="181" y="342">Normal</text><text class="c" x="181" y="354">(n=21)</text>
<text class="c" x="402" y="342">Primary tumor</text><text class="c" x="402" y="354">(n=418)</text>
<text class="x" x="290" y="376">TCGA samples</text>
<text class="p" x="86" y="312" textLength="210" lengthAdjust="spacingAndGlyphs">P=1.017200E-03</text>
</g>

<!-- P16 HNSC -->
<g transform="translate(94,2168)">
<rect width="522" height="392" fill="#fff"/>
<svg class="ps" x="0" y="43" width="522" height="282.5" viewBox="0 -180 522 50" preserveAspectRatio="none" overflow="visible">
<line class="ax" x1="64.5" x2="64.5" y1="-180" y2="-130"/><line class="xa" x1="64.5" x2="513" y1="-130" y2="-130"/>
<line class="ax" x1="59" x2="64.5" y1="-180" y2="-180"/><line class="ax" x1="59" x2="64.5" y1="-170" y2="-170"/><line class="ax" x1="59" x2="64.5" y1="-160" y2="-160"/><line class="ax" x1="59" x2="64.5" y1="-150" y2="-150"/><line class="ax" x1="59" x2="64.5" y1="-140" y2="-140"/><line class="ax" x1="59" x2="64.5" y1="-130" y2="-130"/>
<line class="w" x1="181" x2="181" y1="-166" y2="-142"/><rect class="nb" x="128" y="-157" width="106" height="7"/><line class="m" x1="128" x2="234" y1="-153" y2="-153"/><line class="cap" x1="155" x2="207" y1="-166" y2="-166"/><line class="cap" x1="155" x2="207" y1="-142" y2="-142"/>
<line class="w" x1="402" x2="402" y1="-171" y2="-132"/><rect class="tb" x="349" y="-156" width="106" height="9"/><line class="m" x1="349" x2="455" y1="-152" y2="-152"/><line class="cap" x1="376" x2="428" y1="-171" y2="-171"/><line class="cap" x1="376" x2="428" y1="-132" y2="-132"/>
</svg>
<text class="t" x="261" y="21" textLength="331" lengthAdjust="spacingAndGlyphs">Promoter methylation level of MTF1 in HNSC</text>
<text class="k" x="57" y="47">0.18</text><text class="k" x="57" y="103.5">0.17</text><text class="k" x="57" y="160">0.16</text><text class="k" x="57" y="216.5">0.15</text><text class="k" x="57" y="273">0.14</text><text class="k" x="57" y="329.5">0.13</text>
<text class="b" transform="translate(25,184) rotate(-90)">Beta value</text>
<text class="c" x="181" y="342">Normal</text><text class="c" x="181" y="354">(n=50)</text>
<text class="c" x="402" y="342">Primary tumor</text><text class="c" x="402" y="354">(n=528)</text>
<text class="x" x="290" y="376">TCGA samples</text>
<text class="p" x="86" y="312" textLength="210" lengthAdjust="spacingAndGlyphs">P=4.837900E-03</text>
</g>

<!-- P17 UCEC -->
<g transform="translate(676,2168)">
<rect width="522" height="392" fill="#fff"/>
<svg class="ps" x="0" y="43" width="522" height="282.5" viewBox="0 -180 522 60" preserveAspectRatio="none" overflow="visible">
<line class="ax" x1="64.5" x2="64.5" y1="-180" y2="-120"/><line class="xa" x1="64.5" x2="513" y1="-120" y2="-120"/>
<line class="ax" x1="59" x2="64.5" y1="-180" y2="-180"/><line class="ax" x1="59" x2="64.5" y1="-170" y2="-170"/><line class="ax" x1="59" x2="64.5" y1="-160" y2="-160"/><line class="ax" x1="59" x2="64.5" y1="-150" y2="-150"/><line class="ax" x1="59" x2="64.5" y1="-140" y2="-140"/><line class="ax" x1="59" x2="64.5" y1="-130" y2="-130"/><line class="ax" x1="59" x2="64.5" y1="-120" y2="-120"/>
<line class="w" x1="181" x2="181" y1="-167" y2="-146"/><rect class="nb" x="128" y="-162" width="106" height="9"/><line class="m" x1="128" x2="234" y1="-157" y2="-157"/><line class="cap" x1="155" x2="207" y1="-167" y2="-167"/><line class="cap" x1="155" x2="207" y1="-146" y2="-146"/>
<line class="w" x1="402" x2="402" y1="-171" y2="-131"/><rect class="tb" x="349" y="-157" width="106" height="10"/><line class="m" x1="349" x2="455" y1="-152" y2="-152"/><line class="cap" x1="376" x2="428" y1="-171" y2="-171"/><line class="cap" x1="376" x2="428" y1="-131" y2="-131"/>
</svg>
<text class="t" x="261" y="21" textLength="331" lengthAdjust="spacingAndGlyphs">Promoter methylation level of MTF1 in UCEC</text>
<text class="k" x="57" y="47">0.18</text><text class="k" x="57" y="94.1">0.17</text><text class="k" x="57" y="141.2">0.16</text><text class="k" x="57" y="188.3">0.15</text><text class="k" x="57" y="235.3">0.14</text><text class="k" x="57" y="282.4">0.13</text><text class="k" x="57" y="329.5">0.12</text>
<text class="b" transform="translate(25,184) rotate(-90)">Beta value</text>
<text class="c" x="181" y="342">Normal</text><text class="c" x="181" y="354">(n=46)</text>
<text class="c" x="402" y="342">Primary tumor</text><text class="c" x="402" y="354">(n=438)</text>
<text class="x" x="290" y="376">TCGA samples</text>
<text class="p" x="84" y="300" textLength="332" lengthAdjust="spacingAndGlyphs">P=3.52490259203364E-11</text>
</g>
</svg>
</body></html>
